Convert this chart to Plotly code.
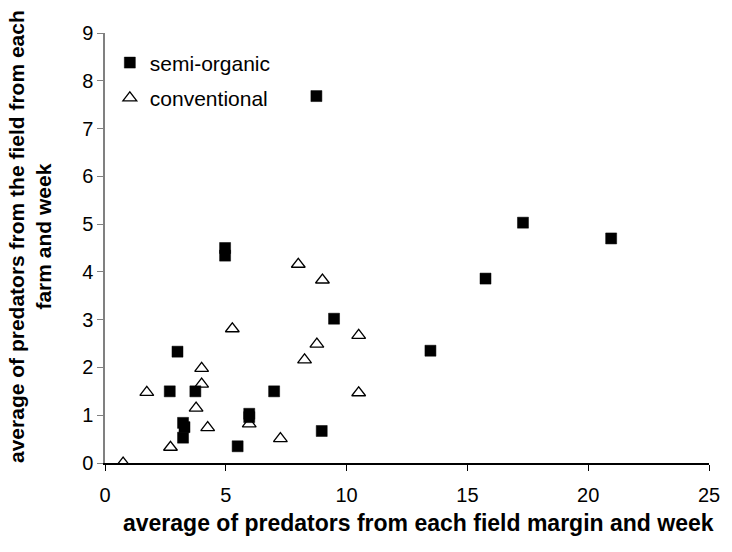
import plotly.graph_objects as go

semi_x = [8.75, 17.3, 20.95, 4.97, 4.97, 15.75, 9.48, 3.0, 13.47, 2.68, 3.74, 7.0, 5.97, 5.97, 3.23, 3.29, 3.23, 8.97, 5.49]
semi_y = [7.68, 5.03, 4.70, 4.50, 4.34, 3.86, 3.02, 2.33, 2.35, 1.5, 1.5, 1.5, 1.03, 0.96, 0.84, 0.75, 0.53, 0.67, 0.35]
conv_x = [0.75, 1.73, 2.71, 4.0, 4.0, 3.77, 4.25, 5.97, 7.26, 5.27, 8.26, 8.77, 8.0, 9.0, 10.5, 10.5]
conv_y = [0.0, 1.48, 0.33, 1.98, 1.65, 1.15, 0.74, 0.82, 0.51, 2.81, 2.16, 2.49, 4.16, 3.83, 2.67, 1.47]

x_title = "average of predators from each field margin and week"
y_title = "average of predators from the field from each<br>farm and week"

FONT = "Arial, Liberation Sans, sans-serif"

fig = go.Figure()
fig.add_trace(go.Scatter(x=semi_x, y=semi_y, mode="markers", name="semi-organic",
                         legendgroup="a",
                         marker=dict(symbol="square", size=11, color="black",
                                     line=dict(color="black", width=0.5))))
fig.add_trace(go.Scatter(x=conv_x, y=conv_y, mode="markers", name="conventional",
                         legendgroup="b",
                         marker=dict(symbol="triangle-up-open", size=12, color="black",
                                     line=dict(color="black", width=1.3))))

fig.update_layout(
    width=732, height=552,
    margin=dict(l=105, r=17, t=33, b=89),
    paper_bgcolor="white", plot_bgcolor="white",
    font=dict(family=FONT, size=20, color="black"),
    showlegend=True,
    legend=dict(x=0.008, y=0.978, xanchor="left", yanchor="top",
                bgcolor="rgba(0,0,0,0)", font=dict(size=21, family=FONT),
                itemwidth=30, tracegroupgap=5),
    xaxis=dict(range=[0, 25], tickvals=[0, 5, 10, 15, 20, 25], showgrid=False, zeroline=False,
               showline=True, linecolor="black", linewidth=1.5, ticks="outside", ticklen=6,
               tickcolor="black", tickfont=dict(size=20), ticklabelstandoff=7, fixedrange=True),
    yaxis=dict(range=[0, 9], tickvals=list(range(10)), showgrid=False, zeroline=False,
               showline=True, linecolor="#808080", linewidth=1.5, ticks="outside", ticklen=6,
               tickcolor="#808080", tickfont=dict(size=20), fixedrange=True),
    annotations=[
        dict(text="<b>" + x_title + "</b>", xref="paper", yref="paper", x=0.5, y=0,
             xanchor="center", yanchor="middle", yshift=-60, showarrow=False,
             font=dict(size=23, family=FONT), xshift=11),
        dict(text="<b>" + y_title + "</b>", xref="paper", yref="paper", x=0, y=0.5,
             xanchor="right", yanchor="middle", xshift=-48, yshift=11, textangle=-90,
             showarrow=False, font=dict(size=21, family=FONT)),
    ],
)

fig.write_html("out.html")
